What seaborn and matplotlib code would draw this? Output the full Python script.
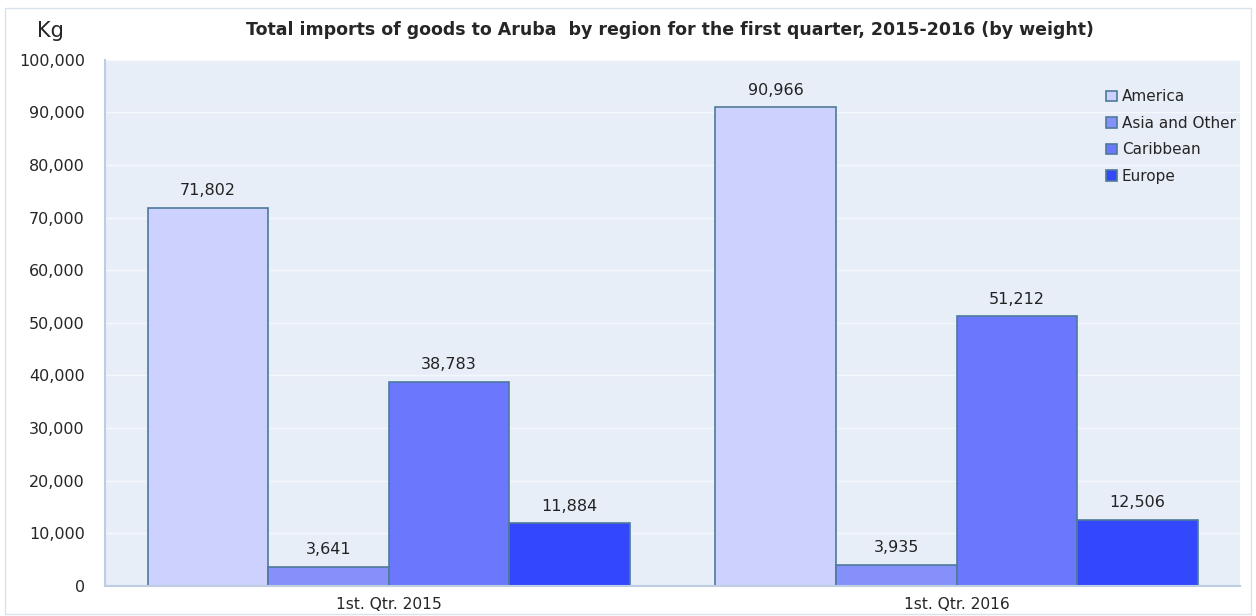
import matplotlib
matplotlib.use("Agg")
import matplotlib.pyplot as plt
import seaborn as sns
import pandas as pd
from matplotlib.patches import Rectangle

quarters = ["1st. Qtr. 2015", "1st. Qtr. 2016"]
regions = ["America", "Asia and Other", "Caribbean", "Europe"]
america = [71802, 90966]
asia_other = [3641, 3935]
caribbean = [38783, 51212]
europe = [11884, 12506]
colors = ["#CDD1FD", "#8590FB", "#6B77FC", "#3347FC"]

rows = []
for series, name in zip([america, asia_other, caribbean, europe], regions):
    for q, v in zip(quarters, series):
        rows.append({"quarter": q, "region": name, "value": v})
df = pd.DataFrame(rows)

sns.set_theme(style="white")
plt.rcParams["font.family"] = ["DejaVu Sans"]

fig = plt.figure(figsize=(12.56, 6.16), dpi=100)
ax = fig.add_axes([0.0836, 0.049, 0.904, 0.854])
ax.set_facecolor("#E8EEF8")

sns.barplot(data=df, x="quarter", y="value", hue="region", order=quarters,
            hue_order=regions, palette=colors, width=0.85, gap=0,
            edgecolor="#4F7A9A", linewidth=1.2, ax=ax, saturation=1, legend=True)

ax.set_ylim(0, 100000)
ax.set_xlim(-0.5, 1.5)
ax.set_yticks(range(0, 100001, 10000))
ax.set_yticklabels([f"{v:,}" for v in range(0, 100001, 10000)], fontsize=11.5)
ax.tick_params(axis="x", labelsize=11.2, length=0, pad=8)
ax.tick_params(axis="y", length=0, pad=14.5)
ax.yaxis.grid(True, color="#F4F7FC", linewidth=1)
ax.set_axisbelow(True)
ax.set_xlabel("")
ax.set_ylabel("")
for s in ["top", "right"]:
    ax.spines[s].set_visible(False)
ax.spines["left"].set_color("#BCCDE4")
ax.spines["bottom"].set_color("#BCCDE4")
ax.spines["left"].set_linewidth(1.5)
ax.spines["bottom"].set_linewidth(1.5)

for cont in ax.containers:
    ax.bar_label(cont, labels=[f"{v:,.0f}" for v in cont.datavalues],
                 padding=7, fontsize=11.5, color="#222222")

leg = ax.legend(loc="upper right", bbox_to_anchor=(1.008, 0.97), frameon=False,
                fontsize=11, handlelength=0.7, handleheight=0.7,
                handletextpad=0.3, labelspacing=0.75)

fig.text(0.04, 0.95, "Kg", fontsize=15, ha="center", va="center")
fig.text(0.533, 0.951, "Total imports of goods to Aruba  by region for the first quarter, 2015-2016 (by weight)",
         fontsize=12.5, fontweight="bold", ha="center", va="center")

fig.patches.append(Rectangle((0.004, 0.003), 0.992, 0.984, transform=fig.transFigure,
                             fill=False, edgecolor="#D9E1EC", linewidth=1))

fig.savefig("out.png", dpi=100)
